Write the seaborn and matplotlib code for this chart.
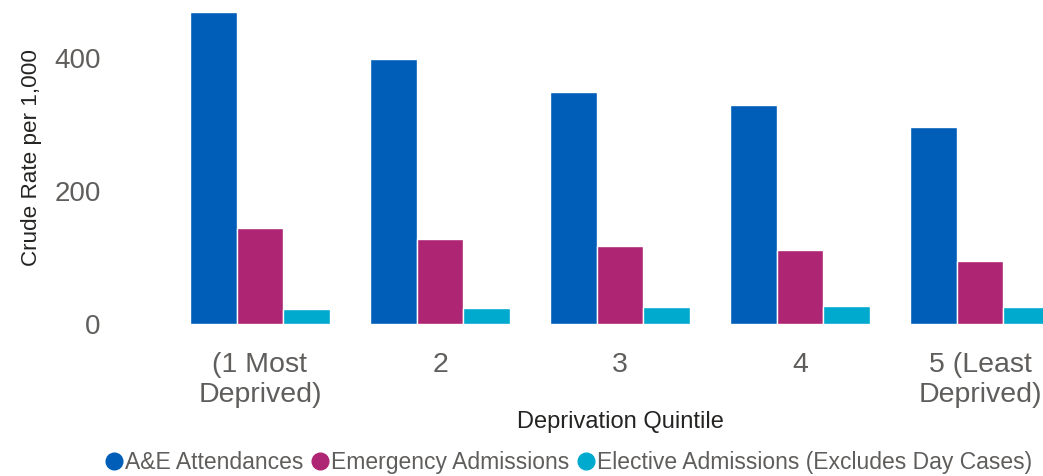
import pandas as pd
import seaborn as sns
import matplotlib.pyplot as plt
from matplotlib.lines import Line2D

# Values
quintiles = ['(1 Most\nDeprived)', '2', '3', '4', '5 (Least\nDeprived)']
measures = ['A&E Attendances', 'Emergency Admissions', 'Elective Admissions (Excludes Day Cases)']
ae_attendances = [470, 399, 349, 330, 296]
emergency_admissions = [145, 128, 118, 111, 95]
elective_admissions = [23, 24.5, 25, 27, 25]
colours = ['#005EB8', '#AE2573', '#00A9CE']

rows = []
for measure, values in zip(measures, [ae_attendances, emergency_admissions, elective_admissions]):
    for q, v in zip(quintiles, values):
        rows.append({'quintile': q, 'measure': measure, 'rate': v})
df = pd.DataFrame(rows)

sns.set_style('white')
plt.rcParams['font.family'] = ['Liberation Sans', 'DejaVu Sans']

fig = plt.figure(figsize=(10.43, 4.76), dpi=100)
ax = fig.add_axes([170 / 1043, 1 - 324 / 476, 900 / 1043, 319 / 476])

sns.barplot(data=df, x='quintile', y='rate', hue='measure', order=quintiles,
            hue_order=measures, palette=colours, saturation=1, width=0.78,
            gap=0, ax=ax, legend=False)

ax.set_xlim(-0.5, 4.5)
ax.set_ylim(0, 480)
ax.set_yticks([0, 200, 400])
sns.despine(ax=ax, left=True, bottom=True)
ax.tick_params(axis='both', length=0, labelsize=20, colors='#605E5C')
ax.tick_params(axis='x', pad=20, labelsize=20.5)
ax.tick_params(axis='y', pad=50)
ax.set_xlabel('Deprivation Quintile', fontsize=17, color='#252423', labelpad=2)
ax.set_ylabel('Crude Rate per 1,000', fontsize=16.2, color='#252423', labelpad=9)
ax.yaxis.label.set_y(0.523)

handles = [Line2D([], [], marker='o', linestyle='', markersize=12, color=c) for c in colours]
fig.legend(handles, measures, loc='center', bbox_to_anchor=(0.545, 0.028), ncol=3,
           frameon=False, fontsize=16.5, handletextpad=0.1, columnspacing=0.3,
           labelcolor='#605E5C', handlelength=0.8)

fig.savefig('out.png', dpi=100)
